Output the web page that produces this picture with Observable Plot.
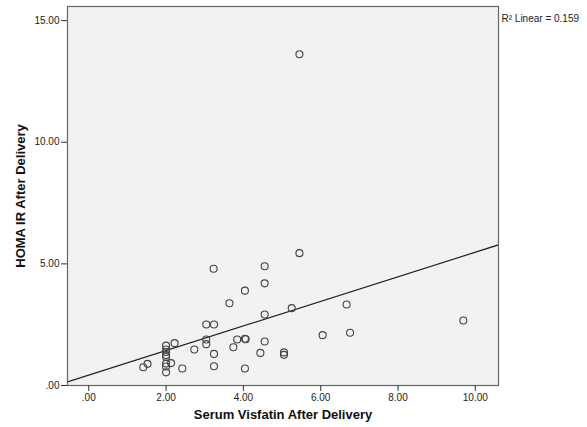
<!DOCTYPE html>
<html>
<head>
<meta charset="utf-8">
<script src="https://cdn.jsdelivr.net/npm/d3@7"></script>
<script src="https://cdn.jsdelivr.net/npm/@observablehq/plot@0.6"></script>
<style>
  html, body { margin: 0; padding: 0; background: #ffffff; }
  #chart svg { font-family: "Liberation Sans", Arial, sans-serif; }
</style>
</head>
<body>
<div id="chart"></div>
<script>
// Serum Visfatin After Delivery (x) vs HOMA IR After Delivery (y)
const visfatin = [
  1.41, 1.52, 2.0, 2.0, 2.0, 2.0, 2.0, 2.0, 2.0, 2.0,
  2.13, 2.22, 2.42, 2.73, 3.04, 3.04, 3.04, 3.24, 3.23, 3.24,
  3.24, 3.64, 3.74, 3.84, 4.04, 4.06, 4.04, 4.04, 4.55, 4.55,
  4.55, 4.55, 4.44, 5.05, 5.05, 5.25, 5.45, 5.45, 6.05, 6.67,
  6.76, 9.69
];
const homaIR = [
  0.75, 0.89, 1.64, 1.48, 1.38, 1.25, 1.17, 0.90, 0.78, 0.54,
  0.92, 1.74, 0.70, 1.48, 2.51, 1.89, 1.70, 2.51, 4.80, 1.30,
  0.79, 3.38, 1.57, 1.89, 1.92, 1.90, 3.90, 0.70, 4.90, 4.20,
  2.92, 1.81, 1.34, 1.36, 1.26, 3.18, 5.44, 13.62, 2.07, 3.33,
  2.17, 2.67
];
const xTicks = [0, 2, 4, 6, 8, 10];
const yTicks = [0, 5, 10, 15];
const xTitle = "Serum Visfatin After Delivery";
const yTitle = "HOMA IR After Delivery";
const r2Label = "R\u00B2 Linear = 0.159";

const data = visfatin.map((x, i) => ({x, y: homaIR[i]}));

// least squares fit
const mx = d3.mean(data, d => d.x), my = d3.mean(data, d => d.y);
const sxy = d3.sum(data, d => (d.x - mx) * (d.y - my));
const sxx = d3.sum(data, d => (d.x - mx) ** 2);
const slope = sxy / sxx, intercept = my - slope * mx;

const xDomain = [-0.55, 10.6];
const yDomain = [0, 15.58];
const fitLine = xDomain.map(x => ({x, y: intercept + slope * x}));

const fmt = d => d === 0 ? ".00" : d.toFixed(2);

const chart = Plot.plot({
  width: 587,
  height: 427,
  marginLeft: 67,
  marginRight: 89,
  marginTop: 6,
  marginBottom: 42,
  style: {background: "#ffffff", color: "#222", fontFamily: "Liberation Sans, Arial, sans-serif"},
  x: {domain: xDomain},
  y: {domain: yDomain},
  marks: [
    Plot.frame({fill: "#f1f2f2", stroke: "none"}),
    Plot.line(fitLine, {x: "x", y: "y", stroke: "#222", strokeWidth: 1.2, clip: true}),
    Plot.dot(data, {x: "x", y: "y", r: 3.5, stroke: "#444", strokeWidth: 1.1, fill: "none"}),
    Plot.frame({stroke: "#666", strokeWidth: 1.2}),
    Plot.axisX({ticks: xTicks, tickFormat: fmt, tickSize: 6, tickPadding: 2, fontSize: 10, label: null, stroke: "#333"}),
    Plot.axisY({ticks: yTicks, tickFormat: fmt, tickSize: 6, tickPadding: 2, fontSize: 10, label: null, stroke: "#333"}),
    Plot.text([xTitle], {frameAnchor: "bottom", dy: 33, fontSize: 13, fontWeight: "bold", fill: "#111"}),
    Plot.text([yTitle], {frameAnchor: "left", dx: -47, rotate: -90, textAnchor: "middle", fontSize: 13, fontWeight: "bold", fill: "#111"}),
    Plot.text([r2Label], {frameAnchor: "top-right", dx: 3, dy: 8, textAnchor: "start", fontSize: 10, fill: "#222"})
  ]
});
document.getElementById("chart").appendChild(chart);
</script>
</body>
</html>
